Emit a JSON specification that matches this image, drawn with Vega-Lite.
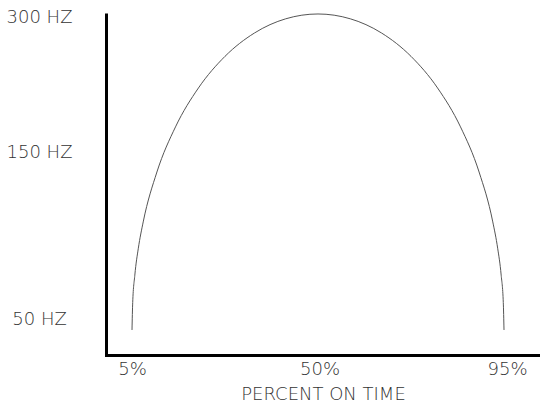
{
  "$schema": "https://vega.github.io/schema/vega-lite/v6.json",
  "width": 434,
  "height": 342,
  "autosize": "none",
  "padding": {"left": 106, "top": 13, "right": 0, "bottom": 59},
  "background": "white",
  "config": {"view": {"stroke": null}, "font": "DejaVu Sans"},
  "data": {
    "values": [
      {"percent_on_time": 5.0, "frequency_hz": 43.41},
      {"percent_on_time": 5.17, "frequency_hz": 59.91},
      {"percent_on_time": 5.68, "frequency_hz": 76.27},
      {"percent_on_time": 6.52, "frequency_hz": 92.39},
      {"percent_on_time": 7.69, "frequency_hz": 108.13},
      {"percent_on_time": 10.98, "frequency_hz": 138.02},
      {"percent_on_time": 15.44, "frequency_hz": 177.91},
      {"percent_on_time": 20.95, "frequency_hz": 221.18},
      {"percent_on_time": 27.32, "frequency_hz": 256.29},
      {"percent_on_time": 34.37, "frequency_hz": 282.17},
      {"percent_on_time": 41.89, "frequency_hz": 298.0},
      {"percent_on_time": 49.64, "frequency_hz": 303.33},
      {"percent_on_time": 57.39, "frequency_hz": 298.0},
      {"percent_on_time": 64.91, "frequency_hz": 282.17},
      {"percent_on_time": 71.96, "frequency_hz": 256.29},
      {"percent_on_time": 78.33, "frequency_hz": 221.18},
      {"percent_on_time": 83.84, "frequency_hz": 177.91},
      {"percent_on_time": 88.3, "frequency_hz": 138.02},
      {"percent_on_time": 91.59, "frequency_hz": 108.13},
      {"percent_on_time": 92.76, "frequency_hz": 92.39},
      {"percent_on_time": 93.6, "frequency_hz": 76.27},
      {"percent_on_time": 94.11, "frequency_hz": 59.91},
      {"percent_on_time": 94.28, "frequency_hz": 43.41}
    ]
  },
  "mark": {"type": "line", "color": "#555555", "strokeWidth": 1, "interpolate": "monotone", "clip": false},
  "encoding": {
    "x": {
      "field": "percent_on_time",
      "type": "quantitative",
      "scale": {"domain": [-1.24, 102.92], "nice": false, "zero": false},
      "axis": {
        "values": [5, 50, 95],
        "labelExpr": "datum.value + '%'",
        "ticks": false,
        "grid": false,
        "domainColor": "black",
        "domainWidth": 3,
        "domainCap": "square",
        "labelFontSize": 18,
        "labelFontWeight": 200,
        "labelColor": "#333333",
        "labelPadding": 5,
        "title": "PERCENT ON TIME",
        "titleFontSize": 18,
        "titleFontWeight": 200,
        "titleColor": "#333333",
        "titlePadding": 7
      }
    },
    "y": {
      "field": "frequency_hz",
      "type": "quantitative",
      "scale": {"domain": [28.4, 50, 150, 300, 304.4], "range": [342, 306, 139, 4, 0], "nice": false, "zero": false},
      "axis": {
        "values": [50, 150, 300],
        "labelExpr": "datum.value + ' HZ'",
        "ticks": false,
        "grid": false,
        "domainColor": "black",
        "domainWidth": 3,
        "labelFontSize": 18,
        "labelFontWeight": 200,
        "labelColor": "#333333",
        "labelAlign": "center",
        "labelBaseline": "middle",
        "labelPadding": 67,
        "title": null
      }
    }
  }
}
